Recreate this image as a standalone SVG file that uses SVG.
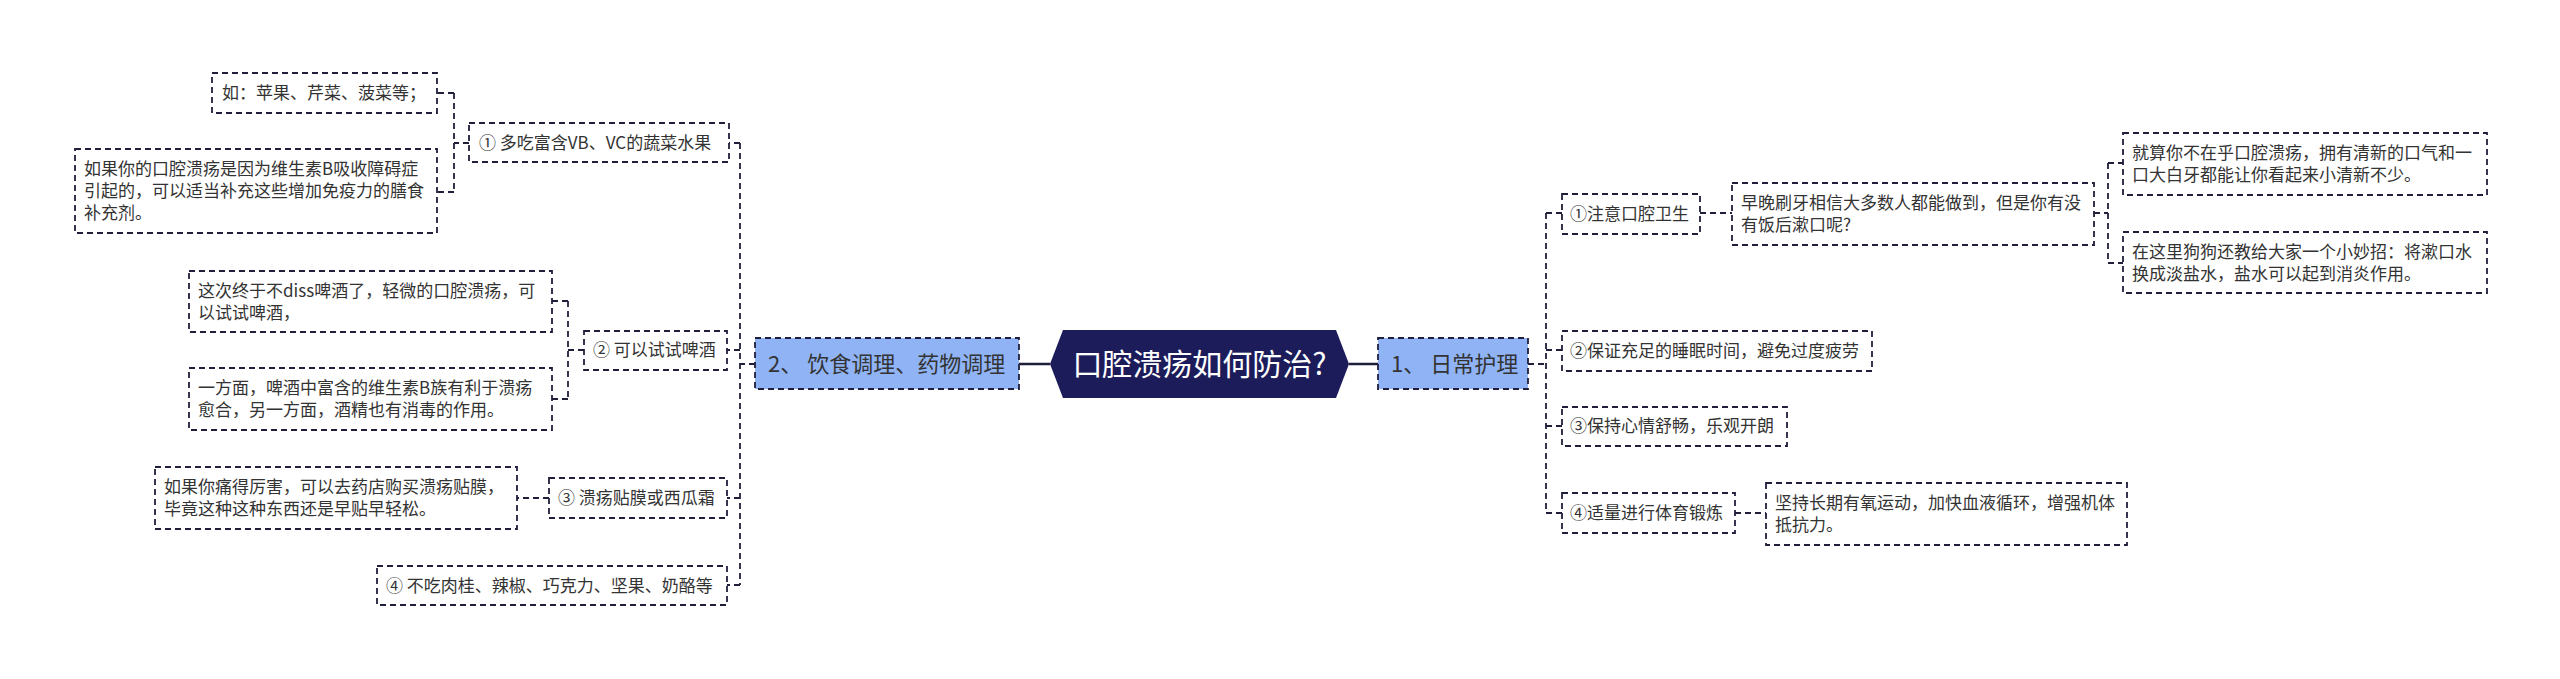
<svg xmlns="http://www.w3.org/2000/svg" width="2560" height="679" viewBox="0 0 2560 679">
<style>
text{font-family:"Noto Sans CJK SC","Noto Sans",sans-serif;fill:#333;}
.t{font-size:17px;}
.m{font-size:22px;}
.c{font-size:30px;fill:#fff;}
.box{fill:#fff;stroke:#1f1f3c;stroke-width:1.8;stroke-dasharray:6 4;}
.main{fill:#8fb3f5;stroke:#1f1f3c;stroke-width:1.8;stroke-dasharray:6 4;}
.ln{fill:none;stroke:#1f1f3c;stroke-width:1.8;stroke-dasharray:6 4;}
.sl{fill:none;stroke:#1f1f3c;stroke-width:2.5;}
</style>
<rect width="2560" height="679" fill="#fff"/>
<g id="connectors">
<path class="sl" d="M1019,364 H1050 M1349,364 H1378"/>
<path class="ln" d="M755,364 H740 M740,143 V585 M740,143 H729 M740,350 H727 M740,498 H727 M740,585 H727"/>
<path class="ln" d="M469,143 H454 M454,93 V192 M454,93 H437 M454,192 H437"/>
<path class="ln" d="M584,350 H568 M568,301 V399 M568,301 H552 M568,399 H552"/>
<path class="ln" d="M549,498 H517"/>
<path class="ln" d="M1528,364 H1546 M1546,213 V513 M1546,213 H1562 M1546,350 H1562 M1546,426 H1562 M1546,513 H1562"/>
<path class="ln" d="M1700,213 H1732"/>
<path class="ln" d="M2094,213 H2108 M2108,163 V263 M2108,163 H2123 M2108,263 H2123"/>
<path class="ln" d="M1735,513 H1766"/>
</g>
<g id="center">
<polygon points="1050,364 1063,330 1336,330 1349,364 1336,398 1063,398" fill="#1c1c5a"/>
<text class="c" x="1199.5" y="375" text-anchor="middle">口腔溃疡如何防治?</text>
</g>
<g id="main-left">
<rect class="main" x="755" y="338" width="264" height="51"/>
<text class="m" x="768" y="372">2、 饮食调理、药物调理</text>
</g>
<g id="main-right">
<rect class="main" x="1378" y="338" width="150" height="51"/>
<text class="m" x="1391" y="372">1、 日常护理</text>
</g>
<g id="l1">
<rect class="box" x="469" y="123" width="260" height="39"/>
<text class="t" x="479" y="149">① 多吃富含VB、VC的蔬菜水果</text>
</g>
<g id="l1a">
<rect class="box" x="212" y="73" width="225" height="40"/>
<text class="t" x="222" y="99">如：苹果、芹菜、菠菜等；</text>
</g>
<g id="l1b">
<rect class="box" x="75" y="149" width="362" height="84"/>
<text class="t" x="84" y="175">如果你的口腔溃疡是因为维生素B吸收障碍症</text>
<text class="t" x="84" y="197">引起的，可以适当补充这些增加免疫力的膳食</text>
<text class="t" x="84" y="219">补充剂。</text>
</g>
<g id="l2">
<rect class="box" x="584" y="331" width="143" height="39"/>
<text class="t" x="593" y="356">② 可以试试啤酒</text>
</g>
<g id="l2a">
<rect class="box" x="189" y="271" width="363" height="61"/>
<text class="t" x="198" y="297">这次终于不diss啤酒了，轻微的口腔溃疡，可</text>
<text class="t" x="198" y="319">以试试啤酒，</text>
</g>
<g id="l2b">
<rect class="box" x="189" y="368" width="363" height="62"/>
<text class="t" x="198" y="394">一方面，啤酒中富含的维生素B族有利于溃疡</text>
<text class="t" x="198" y="416">愈合，另一方面，酒精也有消毒的作用。</text>
</g>
<g id="l3">
<rect class="box" x="549" y="478" width="178" height="40"/>
<text class="t" x="558" y="504">③ 溃疡贴膜或西瓜霜</text>
</g>
<g id="l3a">
<rect class="box" x="155" y="467" width="362" height="62"/>
<text class="t" x="164" y="493">如果你痛得厉害，可以去药店购买溃疡贴膜，</text>
<text class="t" x="164" y="515">毕竟这种这种东西还是早贴早轻松。</text>
</g>
<g id="l4">
<rect class="box" x="377" y="566" width="350" height="39"/>
<text class="t" x="386" y="592">④ 不吃肉桂、辣椒、巧克力、坚果、奶酪等</text>
</g>
<g id="r1">
<rect class="box" x="1562" y="194" width="138" height="40"/>
<text class="t" x="1570" y="220">①注意口腔卫生</text>
</g>
<g id="r1a">
<rect class="box" x="1732" y="183" width="362" height="62"/>
<text class="t" x="1741" y="209">早晚刷牙相信大多数人都能做到，但是你有没</text>
<text class="t" x="1741" y="231">有饭后漱口呢?</text>
</g>
<g id="r1a1">
<rect class="box" x="2123" y="133" width="364" height="62"/>
<text class="t" x="2132" y="159">就算你不在乎口腔溃疡，拥有清新的口气和一</text>
<text class="t" x="2132" y="181">口大白牙都能让你看起来小清新不少。</text>
</g>
<g id="r1a2">
<rect class="box" x="2123" y="232" width="364" height="61"/>
<text class="t" x="2132" y="258">在这里狗狗还教给大家一个小妙招：将漱口水</text>
<text class="t" x="2132" y="280">换成淡盐水，盐水可以起到消炎作用。</text>
</g>
<g id="r2">
<rect class="box" x="1562" y="331" width="310" height="40"/>
<text class="t" x="1570" y="357">②保证充足的睡眠时间，避免过度疲劳</text>
</g>
<g id="r3">
<rect class="box" x="1562" y="407" width="225" height="39"/>
<text class="t" x="1570" y="432">③保持心情舒畅，乐观开朗</text>
</g>
<g id="r4">
<rect class="box" x="1562" y="493" width="173" height="40"/>
<text class="t" x="1570" y="519">④适量进行体育锻炼</text>
</g>
<g id="r4a">
<rect class="box" x="1766" y="483" width="361" height="62"/>
<text class="t" x="1775" y="509">坚持长期有氧运动，加快血液循环，增强机体</text>
<text class="t" x="1775" y="531">抵抗力。</text>
</g>
</svg>
